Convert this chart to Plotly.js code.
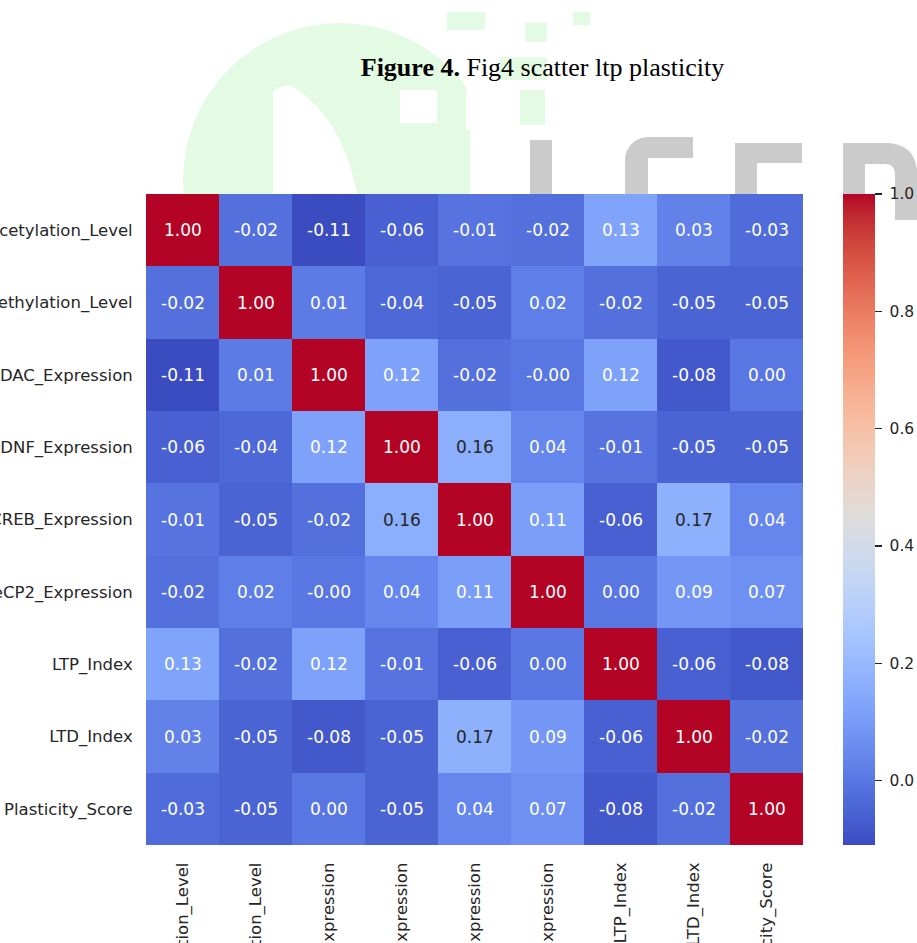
<!DOCTYPE html>
<html>
<head>
<meta charset="utf-8">
<script src="https://cdn.plot.ly/plotly-3.0.1.min.js"></script>
<style>
  html, body { margin: 0; padding: 0; background: #ffffff; }
  #chart { width: 917px; height: 943px; }
</style>
</head>
<body>
<div id="chart"></div>
<script>
// Variables of the correlation matrix (row/column order)
const variables = [
  "Histone_Acetylation_Level",
  "DNA_Methylation_Level",
  "HDAC_Expression",
  "BDNF_Expression",
  "CREB_Expression",
  "MeCP2_Expression",
  "LTP_Index",
  "LTD_Index",
  "Plasticity_Score"
];

// Pearson correlation coefficients, one row per variable
const rowHistoneAcetylation = [1.00, -0.02, -0.11, -0.06, -0.01, -0.02, 0.13, 0.03, -0.03];
const rowDnaMethylation     = [-0.02, 1.00, 0.01, -0.04, -0.05, 0.02, -0.02, -0.05, -0.05];
const rowHdac               = [-0.11, 0.01, 1.00, 0.12, -0.02, -0.001, 0.12, -0.08, 0.00];
const rowBdnf               = [-0.06, -0.04, 0.12, 1.00, 0.16, 0.04, -0.01, -0.05, -0.05];
const rowCreb               = [-0.01, -0.05, -0.02, 0.16, 1.00, 0.11, -0.06, 0.17, 0.04];
const rowMecp2              = [-0.02, 0.02, -0.001, 0.04, 0.11, 1.00, 0.00, 0.09, 0.07];
const rowLtp                = [0.13, -0.02, 0.12, -0.01, -0.06, 0.00, 1.00, -0.06, -0.08];
const rowLtd                = [0.03, -0.05, -0.08, -0.05, 0.17, 0.09, -0.06, 1.00, -0.02];
const rowPlasticity         = [-0.03, -0.05, 0.00, -0.05, 0.04, 0.07, -0.08, -0.02, 1.00];

const corr = [rowHistoneAcetylation, rowDnaMethylation, rowHdac, rowBdnf, rowCreb,
              rowMecp2, rowLtp, rowLtd, rowPlasticity];

// Colour bar tick values
const cbarTicks = [0.0, 0.2, 0.4, 0.6, 0.8, 1.0];

// Diverging blue-white-red map
const coolwarmRGB = [
  [59,76,192],[68,90,204],[77,104,215],[87,117,225],[98,130,234],[108,142,241],
  [119,154,247],[130,165,251],[141,176,254],[152,185,255],[163,194,255],[174,201,253],
  [184,208,249],[194,213,244],[204,217,238],[213,219,230],[221,221,221],[229,216,209],
  [236,211,197],[241,204,185],[245,196,173],[247,187,160],[247,177,148],[247,166,135],
  [244,154,123],[241,141,111],[236,127,99],[229,112,88],[222,96,77],[213,80,66],
  [203,62,56],[192,40,47],[180,4,38]
];
const n = coolwarmRGB.length - 1;
const colorscale = coolwarmRGB.map((c, i) => [i / n, `rgb(${c[0]},${c[1]},${c[2]})`]);

const flat = corr.flat();
const zmin = Math.min(...flat);
const zmax = Math.max(...flat);

function colorAt(v) {
  const t = Math.max(0, Math.min(1, (v - zmin) / (zmax - zmin))) * n;
  const i = Math.min(Math.floor(t), n - 1);
  const f = t - i;
  const a = coolwarmRGB[i], b = coolwarmRGB[i + 1];
  return [0, 1, 2].map(k => a[k] + (b[k] - a[k]) * f);
}
function luminance(rgb) {
  const lin = rgb.map(c => {
    c /= 255;
    return c <= 0.03928 ? c / 12.92 : Math.pow((c + 0.055) / 1.055, 2.4);
  });
  return 0.2126 * lin[0] + 0.7152 * lin[1] + 0.0722 * lin[2];
}

// Value labels inside each cell, dark on light cells and white on dark cells
const annotations = [];
corr.forEach((row, r) => {
  row.forEach((v, c) => {
    annotations.push({
      x: variables[c], y: variables[r], xref: "x", yref: "y",
      text: v.toFixed(2), showarrow: false,
      font: { family: "DejaVu Sans", size: 17,
              color: luminance(colorAt(v)) > 0.408 ? "#262626" : "#ffffff" }
    });
  });
});

// Background logo mark (light green emblem and grey lettering)
const L = 146, T = 194, W = 657, H = 651;
const px = x => (x - L) / W;
const py = y => (T + H - y) / H;
const rectPx = (x0, y0, x1, y1, color) => ({
  type: "rect", xref: "paper", yref: "paper", layer: "below",
  x0: px(x0), x1: px(x1), y0: py(y1), y1: py(y0),
  fillcolor: color, line: { width: 0 }
});
const circlePx = (x0, y0, x1, y1, color) => ({
  type: "circle", xref: "paper", yref: "paper", layer: "below",
  x0: px(x0), x1: px(x1), y0: py(y1), y1: py(y0),
  fillcolor: color, line: { width: 0 }
});
const pathPx = (pts, color) => ({
  type: "path", xref: "paper", yref: "paper", layer: "below",
  path: pts.map(p => (typeof p === "string" ? p : `${px(p[0]).toFixed(5)},${py(p[1]).toFixed(5)}`)).join(" "),
  fillcolor: color, line: { width: 0 }
});
const green = "#e3fae3";
const grey = "#cbcbcb";
const shapes = [
  circlePx(183, 23, 497, 337, green),
  // leaf cut-out with its central vein
  pathPx(["M", [273, 200], "L", [273, 92], "Q", [280, 84], [292, 86],
          "Q", [345, 120], [358, 200], "Z"], "#ffffff"),
  pathPx(["M", [308, 135], "L", [316, 132], [352, 200], [343, 200], "Z"], green),
  rectPx(400, 90, 437, 123, "#ffffff"),
  rectPx(466, 60, 500, 200, "#ffffff"),
  rectPx(447, 12, 485, 30, green),
  rectPx(525, 23, 547, 42, green),
  rectPx(573, 12, 590, 25, green),
  rectPx(500, 57, 547, 80, green),
  rectPx(520, 90, 545, 125, green),
  rectPx(430, 130, 470, 200, green),
  // I
  rectPx(530, 140, 552, 260, grey),
  // S
  rectPx(648, 137, 693, 158, grey),
  rectPx(625, 160, 648, 200, grey),
  circlePx(625, 137, 671, 183, grey),
  circlePx(648, 160, 660, 172, "#ffffff"),
  rectPx(648, 158, 693, 200, "#ffffff"),
  // E
  rectPx(735, 143, 802, 163, grey),
  rectPx(735, 143, 757, 220, grey),
  // D
  rectPx(843, 143, 890, 164, grey),
  rectPx(843, 143, 865, 220, grey),
  rectPx(895, 168, 917, 220, grey),
  pathPx(["M", [885, 143], "Q", [917, 143], [917, 175], "L", [895, 175],
          "Q", [895, 164], [885, 164], "Z"], grey)
];

const trace = {
  type: "heatmap",
  x: variables,
  y: variables,
  z: corr,
  zmin: zmin,
  zmax: zmax,
  colorscale: colorscale,
  xgap: 0, ygap: 0,
  colorbar: {
    x: (843 - L) / W, xanchor: "left",
    y: 0.5, yanchor: "middle",
    len: 1, lenmode: "fraction",
    thickness: 32, thicknessmode: "pixels",
    outlinewidth: 0,
    tickvals: cbarTicks,
    ticktext: cbarTicks.map(v => "\u00a0" + v.toFixed(1)),
    ticks: "outside", ticklen: 7, tickwidth: 1.3, tickcolor: "#262626",
    tickfont: { family: "DejaVu Sans", size: 15.5, color: "#262626" },
    xpad: 0, ypad: 0
  }
};

const layout = {
  width: 917,
  height: 943,
  margin: { l: L, r: 917 - L - W, t: T, b: 943 - T - H, pad: 0, autoexpand: false },
  paper_bgcolor: "#ffffff",
  plot_bgcolor: "rgba(0,0,0,0)",
  title: {
    text: "<b>Figure 4.</b> Fig4 scatter ltp plasticity",
    font: { family: "Liberation Serif", size: 26, color: "#000000" },
    x: 542.5 / 917, xanchor: "center", xref: "container",
    y: 1 - 67 / 943, yanchor: "middle", yref: "container"
  },
  xaxis: {
    type: "category",
    tickangle: -90,
    ticks: "outside", ticklen: 10, tickcolor: "rgba(0,0,0,0)",
    tickfont: { family: "DejaVu Sans", size: 16.5, color: "#262626" },
    showgrid: false, zeroline: false, showline: false,
    automargin: false
  },
  yaxis: {
    type: "category",
    autorange: "reversed",
    ticks: "outside", ticklen: 9, tickcolor: "rgba(0,0,0,0)",
    tickfont: { family: "DejaVu Sans", size: 16.5, color: "#262626" },
    showgrid: false, zeroline: false, showline: false,
    automargin: false
  },
  shapes: shapes,
  annotations: annotations,
  showlegend: false
};

Plotly.newPlot("chart", [trace], layout, { displayModeBar: false, staticPlot: true });
</script>
</body>
</html>
